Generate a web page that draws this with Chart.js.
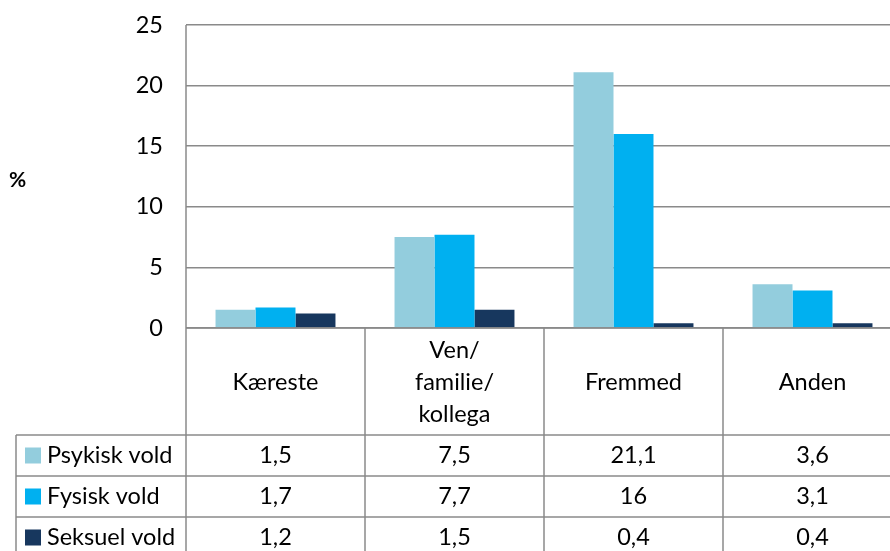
<!DOCTYPE html>
<html>
<head>
<meta charset="utf-8">
<script src="https://cdn.jsdelivr.net/npm/chart.js@4/dist/chart.umd.min.js"></script>
<style>
  html, body { margin: 0; padding: 0; background: #fff; overflow: hidden; }
  #wrap { width: 920px; height: 551px; }
</style>
</head>
<body>
<div id="wrap"><canvas id="chart" width="920" height="551"></canvas></div>
<script>
const kategorier = [['Kæreste'], ['Ven/', 'familie/', 'kollega'], ['Fremmed'], ['Anden']];
const psykiskVold = [1.5, 7.5, 21.1, 3.6];
const fysiskVold = [1.7, 7.7, 16, 3.1];
const seksuelVold = [1.2, 1.5, 0.4, 0.4];
const serieNavne = ['Psykisk vold', 'Fysisk vold', 'Seksuel vold'];
const serieFarver = ['#93cddd', '#00b0f0', '#17375e'];
const yTicks = [0, 5, 10, 15, 20, 25];

const FONT = 'Lato, "Open Sans", sans-serif';
const GRID = '#8a8a8a';
const fmt = v => String(v).replace('.', ',');

// tegner datatabellen under grafen
const tabelPlugin = {
    id: 'tabel',
    afterDraw(chart) {
        const ctx = chart.ctx;
        const xs = chart.scales.x;
        const area = chart.chartArea;
        const bund = chart.height;
        const step = xs.getPixelForValue(1) - xs.getPixelForValue(0);
        const venstre = 16;
        const labelTop = area.bottom;
        const labelBund = 435;
        const rowH = 41;
        ctx.save();
        ctx.strokeStyle = GRID;
        ctx.lineWidth = 1.5;
        // vandrette linjer
        ctx.beginPath();
        ctx.moveTo(area.left, labelTop); ctx.lineTo(chart.width, labelTop);
        for (let i = 0; i < 3; i++) {
            const y = labelBund + i * rowH;
            ctx.moveTo(venstre, y); ctx.lineTo(chart.width, y);
        }
        // lodrette linjer
        ctx.moveTo(venstre, labelBund); ctx.lineTo(venstre, bund);
        ctx.moveTo(area.left, area.top); ctx.lineTo(area.left, bund);
        for (let i = 1; i <= kategorier.length; i++) {
            const x = Math.round(area.left + i * step);
            ctx.moveTo(x, labelTop); ctx.lineTo(x, bund);
        }
        ctx.stroke();

        ctx.fillStyle = '#000';
        ctx.font = '23.5px ' + FONT;
        ctx.textAlign = 'center';
        ctx.textBaseline = 'middle';
        kategorier.forEach((linjer, i) => {
            const cx = xs.getPixelForValue(i);
            const midt = (labelTop + labelBund) / 2 + 1;
            const lh = 32;
            linjer.forEach((t, j) => {
                ctx.fillText(t, cx, midt + (j - (linjer.length - 1) / 2) * lh);
            });
        });
        const serier = [psykiskVold, fysiskVold, seksuelVold];
        serier.forEach((vals, r) => {
            const cy = labelBund + r * rowH + rowH / 2;
            vals.forEach((v, i) => {
                ctx.fillText(fmt(v), xs.getPixelForValue(i), cy);
            });
            ctx.fillStyle = serieFarver[r];
            ctx.fillRect(25, cy - 8, 16, 16);
            ctx.fillStyle = '#000';
            ctx.textAlign = 'left';
            ctx.fillText(serieNavne[r], 47, cy);
            ctx.textAlign = 'center';
        });
        // akse-titel
        ctx.font = 'bold 21px ' + FONT;
        ctx.textAlign = 'left';
        ctx.fillText('%', 9, 180);
        ctx.restore();
    }
};

new Chart(document.getElementById('chart'), {
    type: 'bar',
    data: {
        labels: kategorier.map(k => k.join(' ')),
        datasets: [
            { label: serieNavne[0], data: psykiskVold, backgroundColor: serieFarver[0] },
            { label: serieNavne[1], data: fysiskVold, backgroundColor: serieFarver[1] },
            { label: serieNavne[2], data: seksuelVold, backgroundColor: serieFarver[2] }
        ]
    },
    options: {
        responsive: false,
        animation: false,
        devicePixelRatio: 1,
        layout: { padding: { top: 25, bottom: 223, right: 18, left: 0 } },
        datasets: { bar: { categoryPercentage: 0.67, barPercentage: 1.0 } },
        plugins: { legend: { display: false }, tooltip: { enabled: false } },
        scales: {
            x: { display: false },
            y: {
                min: 0, max: 25,
                afterFit: s => { s.width = 186; s.paddingTop = 0; s.paddingBottom = 0; },
                afterBuildTicks: s => { s.ticks = yTicks.map(v => ({ value: v })); },
                border: { display: false },
                grid: { color: GRID, lineWidth: 1.5, drawTicks: false },
                ticks: { color: '#000', font: { size: 23.5, family: FONT }, padding: 23 }
            }
        }
    },
    plugins: [tabelPlugin]
});
</script>
</body>
</html>
